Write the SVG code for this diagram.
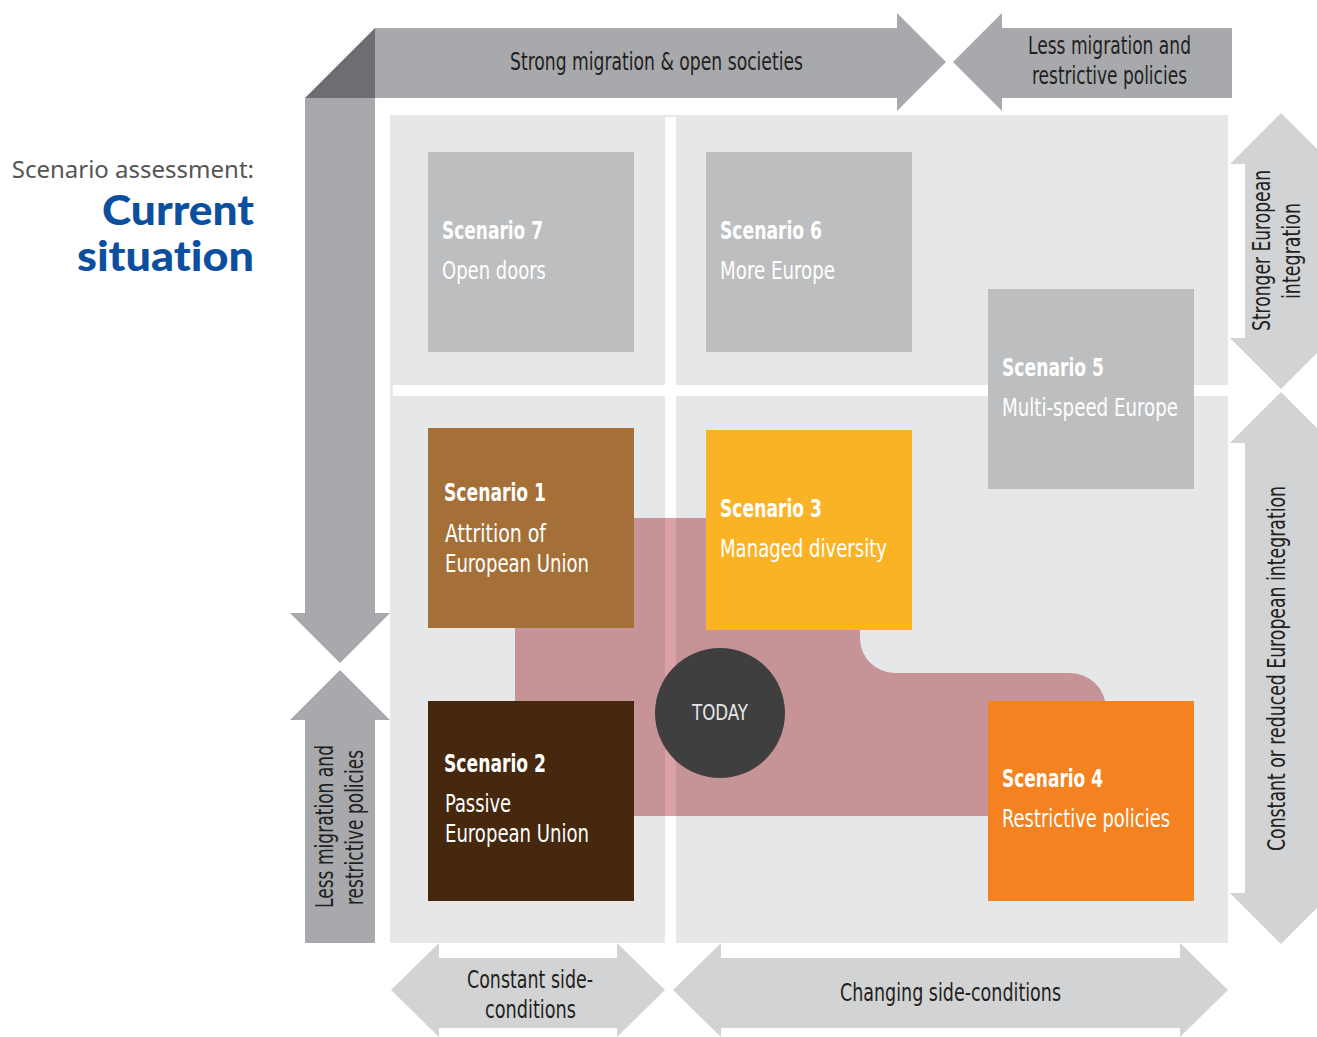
<svg xmlns="http://www.w3.org/2000/svg" width="1317" height="1037" viewBox="0 0 1317 1037">
<style>
.cond{font-family:"DejaVu Sans","Liberation Sans",sans-serif;font-stretch:condensed}
.lbl{font-size:24px;fill:#231f20}
.st{font-size:25px;font-weight:bold;fill:#ffffff}
.sd{font-size:24px;fill:#ffffff}
.dk{fill:#a7a9ac}
.lt{fill:#d1d3d4}
.box{fill:#bcbec0}
.head{font-family:Lato,sans-serif;font-size:41px;font-weight:900;fill:#0b4f9e;font-variant-ligatures:none;font-feature-settings:"liga" 0}
</style>
<rect width="1317" height="1037" fill="#ffffff"/>
<g id="title">
<text x="254" y="178" text-anchor="end" font-family="Noto Sans, sans-serif" font-size="24" fill="#555555">Scenario assessment:</text>
<text class="head" x="102" y="225" textLength="152" lengthAdjust="spacingAndGlyphs">Current</text>
<text class="head" x="77" y="271" textLength="177" lengthAdjust="spacingAndGlyphs">situation</text>
</g>
<g id="grid">
<rect x="390" y="115" width="838" height="828" fill="#e6e7e8"/>
<rect x="665" y="117" width="11" height="826" fill="#ffffff"/>
<rect x="393" y="385" width="835" height="11" fill="#ffffff"/>
</g>
<g id="trajectory">
<path d="M515,518 H860 V638 A35,35 0 0 0 895,673 H1070 A36,36 0 0 1 1106,709 V816 H515 Z" fill="#c69396"/>
<rect x="665" y="518" width="11" height="298" fill="#daa1a6"/>
</g>
<g id="axes">
<g id="axis-strong-migration">
<polygon class="dk" points="375,28 897,28 897,13 946,62 897,111 897,98 375,98"/>
<polygon fill="#6d6e71" points="305,98 375,28 375,98"/>
<text class="cond lbl" x="510" y="70" textLength="293" lengthAdjust="spacingAndGlyphs">Strong migration &amp; open societies</text>
</g>
<g id="axis-less-migration-top">
<polygon class="dk" points="1232,28 1002,28 1002,13 953,62 1002,111 1002,98 1232,98"/>
<text class="cond lbl" x="1028" y="54" textLength="163" lengthAdjust="spacingAndGlyphs">Less migration and</text>
<text class="cond lbl" x="1032" y="84" textLength="155" lengthAdjust="spacingAndGlyphs">restrictive policies</text>
</g>
<g id="axis-down">
<polygon class="dk" points="305,98 375,98 375,613 390,613 340,663 290,613 305,613"/>
</g>
<g id="axis-less-migration-left">
<polygon class="dk" points="305,943 375,943 375,720 390,720 340,670 290,720 305,720"/>
<text class="cond lbl" transform="translate(333,908) rotate(-90)" textLength="163" lengthAdjust="spacingAndGlyphs">Less migration and</text>
<text class="cond lbl" transform="translate(363,905) rotate(-90)" textLength="155" lengthAdjust="spacingAndGlyphs">restrictive policies</text>
</g>
<g id="axis-stronger-integration">
<polygon class="lt" points="1281,113 1332,164 1317,164 1317,338 1332,338 1281,389 1230,338 1245,338 1245,164 1230,164"/>
<text class="cond lbl" transform="translate(1270,331) rotate(-90)" textLength="161" lengthAdjust="spacingAndGlyphs">Stronger European</text>
<text class="cond lbl" transform="translate(1300,299) rotate(-90)" textLength="96" lengthAdjust="spacingAndGlyphs">integration</text>
</g>
<g id="axis-constant-integration">
<polygon class="lt" points="1281,392 1332,443 1317,443 1317,893 1332,893 1281,944 1230,893 1245,893 1245,443 1230,443"/>
<text class="cond lbl" transform="translate(1285,851) rotate(-90)" textLength="365" lengthAdjust="spacingAndGlyphs">Constant or reduced European integration</text>
</g>
<g id="axis-constant-side">
<polygon class="lt" points="391,990 439,943 439,958 617,958 617,943 665,990 617,1037 617,1028 439,1028 439,1037"/>
<text class="cond lbl" x="467" y="988" textLength="126" lengthAdjust="spacingAndGlyphs">Constant side-</text>
<text class="cond lbl" x="485" y="1018" textLength="91" lengthAdjust="spacingAndGlyphs">conditions</text>
</g>
<g id="axis-changing-side">
<polygon class="lt" points="673,990 721,943 721,958 1180,958 1180,943 1228,990 1180,1037 1180,1028 721,1028 721,1037"/>
<text class="cond lbl" x="840" y="1001" textLength="221" lengthAdjust="spacingAndGlyphs">Changing side-conditions</text>
</g>
</g>
<g id="scenario7">
<rect class="box" x="428" y="152" width="206" height="200"/>
<text class="cond st" x="442" y="239" textLength="101" lengthAdjust="spacingAndGlyphs">Scenario 7</text>
<text class="cond sd" x="442" y="279" textLength="104" lengthAdjust="spacingAndGlyphs">Open doors</text>
</g>
<g id="scenario6">
<rect class="box" x="706" y="152" width="206" height="200"/>
<text class="cond st" x="720" y="239" textLength="102" lengthAdjust="spacingAndGlyphs">Scenario 6</text>
<text class="cond sd" x="720" y="279" textLength="115" lengthAdjust="spacingAndGlyphs">More Europe</text>
</g>
<g id="scenario5">
<rect class="box" x="988" y="289" width="206" height="200"/>
<text class="cond st" x="1002" y="376" textLength="102" lengthAdjust="spacingAndGlyphs">Scenario 5</text>
<text class="cond sd" x="1002" y="416" textLength="176" lengthAdjust="spacingAndGlyphs">Multi-speed Europe</text>
</g>
<g id="scenario1">
<rect x="428" y="428" width="206" height="200" fill="#a57038"/>
<text class="cond st" x="444" y="501" textLength="102" lengthAdjust="spacingAndGlyphs">Scenario 1</text>
<text class="cond sd" x="445" y="542" textLength="101" lengthAdjust="spacingAndGlyphs">Attrition of</text>
<text class="cond sd" x="445" y="572" textLength="144" lengthAdjust="spacingAndGlyphs">European Union</text>
</g>
<g id="scenario3">
<rect x="706" y="430" width="206" height="200" fill="#fbb326"/>
<text class="cond st" x="720" y="517" textLength="102" lengthAdjust="spacingAndGlyphs">Scenario 3</text>
<text class="cond sd" x="720" y="557" textLength="167" lengthAdjust="spacingAndGlyphs">Managed diversity</text>
</g>
<g id="scenario2">
<rect x="428" y="701" width="206" height="200" fill="#46280e"/>
<text class="cond st" x="444" y="772" textLength="102" lengthAdjust="spacingAndGlyphs">Scenario 2</text>
<text class="cond sd" x="445" y="812" textLength="66" lengthAdjust="spacingAndGlyphs">Passive</text>
<text class="cond sd" x="445" y="842" textLength="144" lengthAdjust="spacingAndGlyphs">European Union</text>
</g>
<g id="scenario4">
<rect x="988" y="701" width="206" height="200" fill="#f58220"/>
<text class="cond st" x="1002" y="787" textLength="101" lengthAdjust="spacingAndGlyphs">Scenario 4</text>
<text class="cond sd" x="1002" y="827" textLength="168" lengthAdjust="spacingAndGlyphs">Restrictive policies</text>
</g>
<g id="today">
<circle cx="720" cy="713" r="65" fill="#3f3f3f"/>
<text class="cond" x="692" y="720" textLength="56" lengthAdjust="spacingAndGlyphs" font-size="22" fill="#e6e6e6">TODAY</text>
</g>
</svg>
